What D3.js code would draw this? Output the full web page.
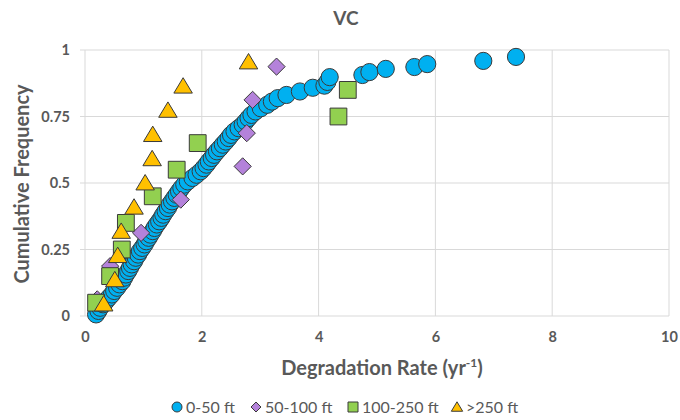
<!DOCTYPE html>
<html>
<head>
<meta charset="utf-8">
<script src="https://cdn.jsdelivr.net/npm/d3@7"></script>
<style>
  html, body { margin: 0; padding: 0; background: #fff; }
  svg { display: block; font-family: Lato, "Open Sans", sans-serif; }
</style>
</head>
<body>
<svg id="chart" width="680" height="420"></svg>
<script>
// Cumulative frequency of degradation rate, grouped by depth class
const xTicks = [0, 2, 4, 6, 8, 10];
const yTicks = [0, 0.25, 0.5, 0.75, 1];
const yTickLabels = ["0", "0.25", "0.5", "0.75", "1"];
const seriesNames = ["0-50 ft", "50-100 ft", "100-250 ft", ">250 ft"];

// 0-50 ft
const rate0to50 = [0.19,0.23,0.26,0.31,0.36,0.41,0.46,0.50,0.55,0.59,0.64,0.67,0.70,0.74,0.77,0.80,0.84,0.87,0.91,0.94,
  0.98,1.02,1.05,1.09,1.12,1.16,1.19,1.23,1.27,1.31,1.34,1.38,1.42,1.45,1.49,1.53,1.57,1.61,1.65,1.70,
  1.76,1.84,1.91,1.98,2.03,2.08,2.12,2.17,2.21,2.26,2.31,2.36,2.41,2.46,2.50,2.56,2.63,2.70,2.75,2.80,
  2.85,2.92,3.01,3.12,3.20,3.30,3.45,3.68,3.90,4.10,4.15,4.19,4.75,4.87,5.15,5.64,5.86,6.82,7.38];
const freq0to50 = [0.006,0.019,0.031,0.044,0.056,0.069,0.081,0.094,0.106,0.119,0.131,0.144,0.156,0.169,0.181,0.194,0.206,0.219,0.231,0.244,
  0.256,0.269,0.281,0.294,0.306,0.319,0.331,0.344,0.356,0.369,0.381,0.394,0.406,0.419,0.431,0.444,0.456,0.469,0.481,0.494,
  0.506,0.519,0.531,0.544,0.556,0.569,0.581,0.594,0.606,0.619,0.631,0.644,0.656,0.669,0.681,0.694,0.706,0.719,0.731,0.744,
  0.756,0.769,0.781,0.794,0.806,0.819,0.831,0.844,0.858,0.866,0.880,0.898,0.906,0.917,0.929,0.936,0.947,0.959,0.974];

// 50-100 ft
const rate50to100 = [0.21, 0.43, 0.96, 1.64, 2.70, 2.77, 2.87, 3.28];
const freq50to100 = [0.0625, 0.1875, 0.3125, 0.4375, 0.5625, 0.6875, 0.8125, 0.9375];

// 100-250 ft
const rate100to250 = [0.19, 0.43, 0.63, 0.70, 1.16, 1.57, 1.93, 4.34, 4.50];
const freq100to250 = [0.05, 0.15, 0.25, 0.35, 0.45, 0.55, 0.65, 0.75, 0.85];

// >250 ft
const rateOver250 = [0.32, 0.51, 0.56, 0.62, 0.84, 1.03, 1.15, 1.16, 1.42, 1.68, 2.80];
const freqOver250 = [0.045, 0.136, 0.227, 0.318, 0.409, 0.5, 0.591, 0.682, 0.773, 0.864, 0.955];

const W = 680, H = 420;
const margin = { left: 85, right: 11, top: 50, bottom: 104 };
const svg = d3.select("#chart");
const textColor = "#595959";
const gridColor = "#d9d9d9";
const strokeColor = "#3a3a3a";

const x = d3.scaleLinear().domain([0, 10]).range([margin.left, W - margin.right]);
const y = d3.scaleLinear().domain([0, 1]).range([H - margin.bottom, margin.top]);

// gridlines
svg.append("g").selectAll("line").data(xTicks).join("line")
  .attr("x1", d => x(d)).attr("x2", d => x(d))
  .attr("y1", y(0)).attr("y2", y(1))
  .attr("stroke", gridColor).attr("stroke-width", 1);
svg.append("g").selectAll("line").data(yTicks).join("line")
  .attr("x1", x(0) - 5).attr("x2", x(10))
  .attr("y1", d => y(d)).attr("y2", d => y(d))
  .attr("stroke", gridColor).attr("stroke-width", 1);

// axes (labels only; gridlines drawn above)
const xAxis = d3.axisBottom(x).tickValues(xTicks).tickSize(0).tickPadding(16).tickFormat(d3.format("d"));
const gx = svg.append("g").attr("transform", `translate(0,${y(0)})`).call(xAxis);
gx.select(".domain").remove();
gx.selectAll("text").attr("fill", textColor).attr("font-size", 14.5).attr("font-weight", "bold")
  .attr("font-family", "Lato, sans-serif");

const yAxis = d3.axisLeft(y).tickValues(yTicks).tickSize(0).tickPadding(15)
  .tickFormat((d, i) => yTickLabels[i]);
const gy = svg.append("g").attr("transform", `translate(${x(0)},0)`).call(yAxis);
gy.select(".domain").remove();
gy.selectAll("text").attr("fill", textColor).attr("font-size", 14.5).attr("font-weight", "bold")
  .attr("font-family", "Lato, sans-serif");

// titles
svg.append("text").attr("x", 346).attr("y", 25).attr("text-anchor", "middle")
  .attr("fill", textColor).attr("font-size", 19).attr("font-weight", "bold").text("VC");

const xt = svg.append("text").attr("x", 382).attr("y", 375).attr("text-anchor", "middle")
  .attr("fill", textColor).attr("font-size", 20).attr("font-weight", "bold");
xt.append("tspan").text("Degradation Rate (yr");
xt.append("tspan").attr("font-size", 12).attr("dy", -8).text("-1");
xt.append("tspan").attr("dy", 8).text(")");

svg.append("text").attr("transform", "translate(29,184) rotate(-90)").attr("text-anchor", "middle")
  .attr("fill", textColor).attr("font-size", 20).attr("font-weight", "bold").text("Cumulative Frequency");

// marker shapes
const colors = ["#00b0f0", "#b482da", "#92d050", "#ffc000"];

function shapePath(i, s) {
  if (i === 0) return d3.symbol(d3.symbolCircle, Math.PI * s * s)();
  if (i === 1) return `M0,${-s}L${s},0L0,${s}L${-s},0Z`;
  if (i === 2) return `M${-s},${-s}H${s}V${s}H${-s}Z`;
  const h = s * 1.75;
  return `M0,${-h * 0.55}L${s * 1.05},${h * 0.45}L${-s * 1.05},${h * 0.45}Z`;
}

const series = [
  { xs: rate0to50, ys: freq0to50, size: 8.6 },
  { xs: rate50to100, ys: freq50to100, size: 8.6 },
  { xs: rate100to250, ys: freq100to250, size: 8.4 },
  { xs: rateOver250, ys: freqOver250, size: 8.8 }
];

const plot = svg.append("g");
series.forEach((s, i) => {
  plot.append("g").selectAll("path").data(s.xs.map((v, k) => [v, s.ys[k]])).join("path")
    .attr("transform", d => `translate(${x(d[0])},${y(d[1])})`)
    .attr("d", shapePath(i, s.size))
    .attr("fill", colors[i]).attr("stroke", strokeColor).attr("stroke-width", 1);
});

// legend
const legendX = [177, 256, 353, 457];
const lg = svg.append("g").attr("transform", "translate(0,407)");
seriesNames.forEach((name, i) => {
  lg.append("path").attr("transform", `translate(${legendX[i]},0)`)
    .attr("d", shapePath(i, i === 3 ? 5.4 : 5))
    .attr("fill", colors[i]).attr("stroke", strokeColor).attr("stroke-width", 1);
  lg.append("text").attr("x", legendX[i] + 9).attr("y", 5.5)
    .attr("fill", textColor).attr("font-size", 16).text(name);
});
</script>
</body>
</html>
